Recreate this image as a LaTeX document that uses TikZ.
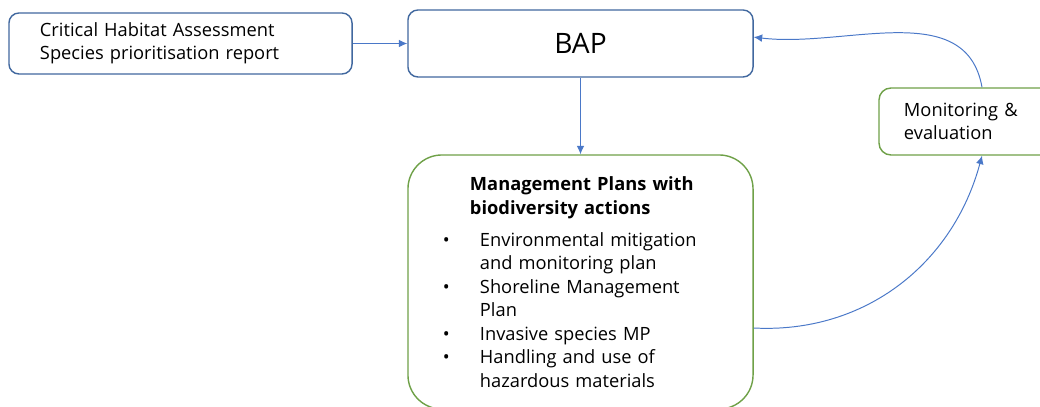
\documentclass[tikz,border=0pt]{standalone}
\usepackage{fontspec}
\setmainfont{Open Sans}
\usepackage{xcolor}
\usepackage{tikz}
\usetikzlibrary{arrows,arrows.meta}
\definecolor{bapblue}{HTML}{41689F}
\definecolor{linkblue}{HTML}{4A78C8}
\definecolor{plangreen}{HTML}{6FA148}
\tikzset{
  bluebox/.style={draw=bapblue, line width=1pt, rounded corners=0.25cm, fill=white},
  greenbox/.style={draw=plangreen, line width=1pt, fill=white},
  link/.style={linkblue, line width=0.7pt, -{Latex[length=6pt,width=5.5pt]}}
}
\newcommand{\bodyfont}{\fontsize{13}{16.7}\selectfont}
\newcommand{\planitem}[1]{\par\leftskip=0.925cm\noindent\llap{\makebox[0.925cm][l]{\textbullet}}#1}

\begin{document}
\begin{tikzpicture}[x=0.025cm, y=0.025cm]
\useasboundingbox (0,0) rectangle (1040,407);
\node[bluebox, minimum width=8.575cm, minimum height=1.525cm, text width=7.025cm, inner xsep=0.775cm, align=left, font=\bodyfont] (cha) at (180.5,363.5) {Critical Habitat Assessment\\Species prioritisation report};
\node[bluebox, minimum width=8.625cm, minimum height=1.675cm, font=\fontsize{20}{24}\selectfont] (bap) at (580.5,363.5) {BAP};
\node[greenbox, rounded corners=0.85cm, minimum width=8.625cm, minimum height=6.35cm, text width=6.875cm, inner xsep=0.875cm, align=left, font=\bodyfont] (plans) at (580.5,125) {%
  \leftskip=0.675cm\textbf{Management Plans with}\\
  \textbf{biodiversity actions}\par\vspace{6pt}
  \planitem{Environmental mitigation\\and monitoring plan}
  \planitem{Shoreline Management\\Plan}
  \planitem{Invasive species MP}
  \planitem{Handling and use of\\hazardous materials}\par};
\node[greenbox, rounded corners=0.3cm, minimum width=5.15cm, minimum height=1.675cm, text width=3.9cm, inner xsep=0.625cm, align=left, font=\bodyfont] (mon) at (982,285.5) {Monitoring \&\\evaluation};
\draw[link] (cha) -- (bap);
\draw[link] (bap) -- (plans);
\draw[link] ([yshift=-1.15cm]plans.east) to[out=-3, in=-105] (mon.south);
\draw[link] (mon.north) to[out=100, in=-7] ([yshift=0.16cm]bap.east);
\end{tikzpicture}
\end{document}
